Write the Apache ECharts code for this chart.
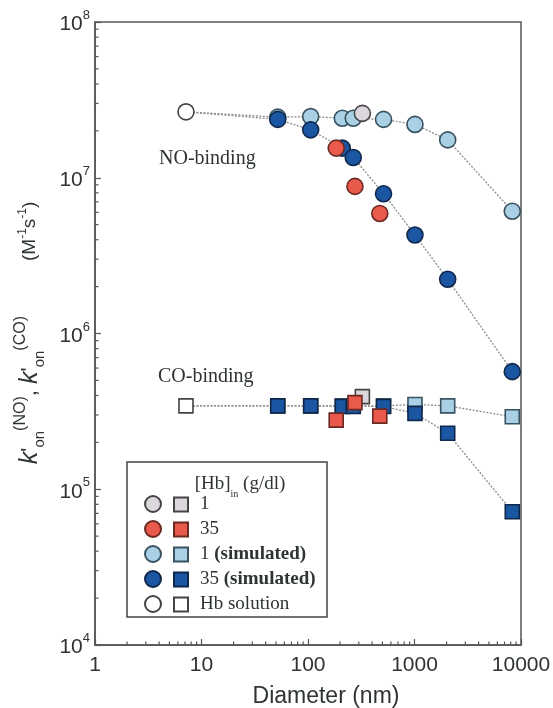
<!DOCTYPE html>
<html><head><meta charset="utf-8">
<script src="https://cdn.jsdelivr.net/npm/echarts@6/dist/echarts.min.js"></script>
<style>html,body{margin:0;padding:0;background:#fff}#c{width:553px;height:708px}</style>
</head><body><div id="c"></div>
<script>
// ---- data ----
const hbSolutionD = 7.15;
const hbSolutionNO = 2.65e7;
const hbSolutionCO = 3.43e5;
const simD = [52, 106, 210, 266, 512, 1010, 2050, 8280];
const sim1NO = [2.45e7, 2.47e7, 2.41e7, 2.41e7, 2.37e7, 2.2e7, 1.75e7, 6.1e6];
const sim35NO = [2.37e7, 2.03e7, 1.55e7, 1.35e7, 7.9e6, 4.29e6, 2.23e6, 5.69e5];
const sim1CO = [3.43e5, 3.43e5, 3.43e5, 3.43e5, 3.43e5, 3.5e5, 3.43e5, 2.92e5];
const sim35CO = [3.43e5, 3.43e5, 3.4e5, 3.4e5, 3.4e5, 3.07e5, 2.29e5, 7.17e4];
const exp1D = [324];
const exp1NO = [2.59e7];
const exp1CO = [3.93e5];
const exp35D = [184, 276, 472];
const exp35NO = [1.55e7, 8.8e6, 5.9e6];
const exp35CO = [2.78e5, 3.6e5, 2.95e5];
const xDecades = [1, 10, 100, 1000, 10000];
const yDecades = [1e4, 1e5, 1e6, 1e7, 1e8];
const legendNames = ['1', '35', '1 (simulated)', '35 (simulated)', 'Hb solution'];

// ---- helpers ----
const pairs = (xs, ys) => xs.map((x, i) => [x, ys[i]]);
const withHb = (ys, hb) => [[hbSolutionD, hb]].concat(pairs(simD, ys));
const minorOf = (dec) => {
  const out = [];
  for (let i = 0; i < dec.length - 1; i++) for (let m = 2; m <= 9; m++) out.push(dec[i] * m);
  return out;
};
const xMinor = minorOf(xDecades);
const yMinor = minorOf(yDecades);

const C = {
  g1: {color: '#dcd7dd', borderColor: '#454545', borderWidth: 1.6, opacity: 1},
  r35: {color: '#e9594c', borderColor: '#6a2a22', borderWidth: 1.6, opacity: 1},
  lb: {color: '#a9d0e5', borderColor: '#38525f', borderWidth: 1.6, opacity: 1},
  db: {color: '#1b56a3', borderColor: '#0f274b', borderWidth: 1.6, opacity: 1},
  hb: {color: '#ffffff', borderColor: '#444444', borderWidth: 1.6, opacity: 1}
};
const lineStyle = {color: '#8c8c8c', width: 1.3, type: [2, 1.5]};
const serif = 'Liberation Serif, Times New Roman, serif';
const sans = 'Liberation Sans, Arial, sans-serif';
const txt = '#2e3333';

function lineS(data) {
  return {type: 'line', data, symbol: 'none', lineStyle, silent: true, z: 2, clip: false};
}
function scat(name, data, sym, style) {
  return {type: 'scatter', name, data, symbol: sym, symbolSize: sym === 'circle' ? 16 : 14,
    itemStyle: style, z: 3, clip: false};
}
function tickSeries(data, horizontal) {
  return {
    type: 'custom', silent: true, z: 4, clip: false,
    data,
    renderItem: (p, api) => {
      const c = api.coord([api.value(0), api.value(1)]);
      const shape = horizontal
        ? {x1: c[0], y1: c[1], x2: c[0] + 3.5, y2: c[1]}
        : {x1: c[0], y1: c[1], x2: c[0], y2: c[1] - 3.5};
      return {type: 'line', shape, style: {stroke: '#555', lineWidth: 1.2}};
    }
  };
}

const chart = echarts.init(document.getElementById('c'), null, {renderer: 'canvas'});
chart.setOption({
  animation: false,
  backgroundColor: '#fff',
  grid: {left: 95, right: 32, top: 22, bottom: 63, show: true, borderColor: '#555', borderWidth: 1.5,
    containLabel: false, outerBoundsMode: 'none'},
  xAxis: {
    type: 'log', logBase: 10, min: 1, max: 10000,
    axisLine: {show: true, lineStyle: {color: '#555', width: 1.5}},
    axisTick: {show: true, inside: true, length: 6, lineStyle: {color: '#555', width: 1.2}},
    splitLine: {show: false},
    axisLabel: {fontSize: 21, fontFamily: sans, color: txt, margin: 10, formatter: v => String(Math.round(v))},
    name: 'Diameter (nm)', nameLocation: 'middle', nameGap: 40,
    nameTextStyle: {fontSize: 23, fontFamily: sans, color: txt, padding: [0, 0, 0, 36]}
  },
  yAxis: {
    type: 'log', logBase: 10, min: 1e4, max: 1e8,
    axisLine: {show: true, lineStyle: {color: '#555', width: 1.5}},
    axisTick: {show: true, inside: true, length: 6, lineStyle: {color: '#555', width: 1.2}},
    splitLine: {show: false},
    axisLabel: {
      margin: 5, color: txt,
      formatter: v => '{b|10}{s|' + Math.round(Math.log10(v)) + '}',
      rich: {
        b: {fontSize: 21, fontFamily: sans, color: txt, lineHeight: 26, verticalAlign: 'bottom'},
        s: {fontSize: 13, fontFamily: sans, color: txt, lineHeight: 26, verticalAlign: 'top'}
      }
    }
  },
  legend: [
    {
      orient: 'vertical', left: 144, top: 495, padding: 0, itemGap: 7,
      itemWidth: 16, itemHeight: 16, selectedMode: false,
      data: ['c1', 'c35', 'cs1', 'cs35', 'chb'].map(n => ({name: n, icon: 'circle'})),
      formatter: () => '', textStyle: {fontSize: 10, lineHeight: 14}
    },
    {
      orient: 'vertical', left: 173, top: 495, padding: 0, itemGap: 6,
      itemWidth: 14, itemHeight: 14, selectedMode: false,
      data: legendNames.map(n => ({name: n, icon: 'rect'})),
      formatter: n => n.replace('(simulated)', '{b|(simulated)}'),
      textStyle: {
        fontSize: 19, fontFamily: serif, color: txt, padding: [0, 0, 0, 7],
        rich: {b: {fontSize: 19, fontFamily: serif, fontWeight: 'bold', color: txt}}
      }
    }
  ],
  graphic: [
    {type: 'rect', z: 1, shape: {x: 127, y: 462, width: 200, height: 155},
      style: {fill: '#fff', stroke: '#444', lineWidth: 1.5}},
    {type: 'text', z: 5, x: 240, y: 487, style: {
      text: '{m|[Hb]}{s|in}{m| (g/dl)}', align: 'center', verticalAlign: 'middle',
      rich: {
        m: {fontSize: 19, fontFamily: serif, fill: txt, lineHeight: 24, verticalAlign: 'top'},
        s: {fontSize: 10, fontFamily: serif, fill: txt, lineHeight: 24, verticalAlign: 'bottom'}
      }}},
    {type: 'text', z: 5, x: 159, y: 159, style: {
      text: 'NO-binding', font: '20px ' + serif, fill: txt, align: 'left', verticalAlign: 'middle'}},
    {type: 'text', z: 5, x: 158, y: 377, style: {
      text: 'CO-binding', font: '20px ' + serif, fill: txt, align: 'left', verticalAlign: 'middle'}},
    {type: 'text', z: 5, x: 30, y: 333, rotation: Math.PI / 2, style: {
      text: '{i|k}{p|\'}{d|on}{u|(NO)}{p|, }{i|k}{p|\'}{d|on}{u|(CO)}{g| }{m|(M}{e|-1}{m|s}{e|-1}{m|)}',
      align: 'center', verticalAlign: 'middle',
      rich: {
        i: {fontSize: 25, fontFamily: sans, fontStyle: 'italic', fill: txt, lineHeight: 34, verticalAlign: 'middle'},
        p: {fontSize: 22, fontFamily: sans, fill: txt, lineHeight: 34, verticalAlign: 'middle'},
        d: {fontSize: 15, fontFamily: sans, fill: txt, lineHeight: 34, verticalAlign: 'bottom'},
        u: {fontSize: 16, fontFamily: sans, fill: txt, lineHeight: 34, verticalAlign: 'top'},
        g: {width: 55, lineHeight: 34},
        m: {fontSize: 19, fontFamily: sans, fill: txt, lineHeight: 34, verticalAlign: 'middle'},
        e: {fontSize: 12, fontFamily: sans, fill: txt, lineHeight: 34, verticalAlign: 'top', padding: [4, 0, 0, 0]}
      }}}
  ],
  series: [
    tickSeries(xMinor.map(v => [v, 1e4]), false),
    tickSeries(yMinor.map(v => [1, v]), true),
    lineS(withHb(sim1NO, hbSolutionNO)),
    lineS(withHb(sim35NO, hbSolutionNO)),
    lineS(withHb(sim1CO, hbSolutionCO)),
    lineS(withHb(sim35CO, hbSolutionCO)),
    scat('cs1', pairs(simD, sim1NO), 'circle', C.lb),
    scat('1 (simulated)', pairs(simD, sim1CO), 'rect', C.lb),
    scat('cs35', pairs(simD, sim35NO), 'circle', C.db),
    scat('35 (simulated)', pairs(simD, sim35CO), 'rect', C.db),
    scat('c1', pairs(exp1D, exp1NO), 'circle', C.g1),
    scat('1', pairs(exp1D, exp1CO), 'rect', C.g1),
    scat('c35', pairs(exp35D, exp35NO), 'circle', C.r35),
    scat('35', pairs(exp35D, exp35CO), 'rect', C.r35),
    scat('chb', [[hbSolutionD, hbSolutionNO]], 'circle', C.hb),
    scat('Hb solution', [[hbSolutionD, hbSolutionCO]], 'rect', C.hb)
  ]
});
</script>
</body></html>
